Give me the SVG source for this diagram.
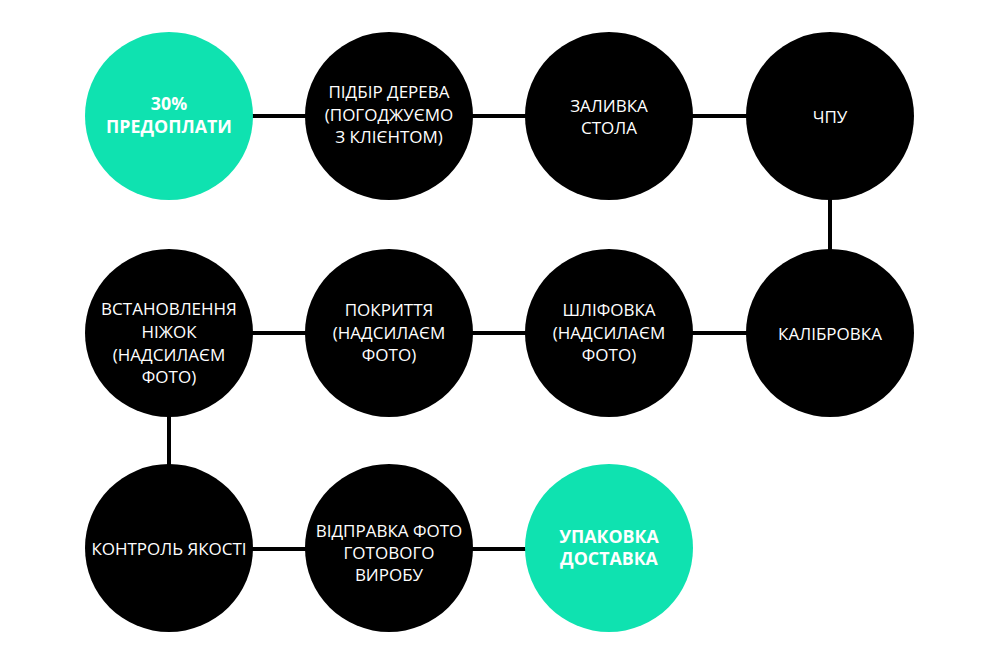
<svg xmlns="http://www.w3.org/2000/svg" width="1000" height="667" viewBox="0 0 1000 667">
<style>
.dark{fill:#000}
.green{fill:#0fe2b0}
.t{font-family:"Open Sans","Noto Sans","DejaVu Sans",sans-serif;font-size:17px;fill:#fff;text-anchor:middle}
.b{font-weight:bold;font-size:17.8px}
.c{stroke:#000;stroke-width:4;fill:none}
</style>
<rect width="1000" height="667" fill="#fff"/>
<g id="connectors">
<line class="c" x1="169" y1="116" x2="830" y2="116"/>
<line class="c" x1="830" y1="116" x2="830" y2="333"/>
<line class="c" x1="169" y1="333" x2="830" y2="333"/>
<line class="c" x1="169" y1="333" x2="169" y2="549"/>
<line class="c" x1="169" y1="549" x2="609" y2="549"/>
</g>
<g id="n1"><circle class="green" cx="169" cy="116" r="84"/>
<text class="t b" x="169" y="110">30%</text><text class="t b" x="169" y="133">ПРЕДОПЛАТИ</text></g>
<g id="n2"><circle class="dark" cx="389" cy="116" r="84"/>
<text class="t" x="389" y="98">ПІДБІР ДЕРЕВА</text><text class="t" x="389" y="121">(ПОГОДЖУЄМО</text><text class="t" x="389" y="143">З КЛІЄНТОМ)</text></g>
<g id="n3"><circle class="dark" cx="609" cy="116" r="84"/>
<text class="t" x="609" y="112">ЗАЛИВКА</text><text class="t" x="609" y="134">СТОЛА</text></g>
<g id="n4"><circle class="dark" cx="830" cy="116" r="84"/>
<text class="t" x="830" y="123">ЧПУ</text></g>
<g id="n5"><circle class="dark" cx="830" cy="333" r="84"/>
<text class="t" x="830" y="340">КАЛІБРОВКА</text></g>
<g id="n6"><circle class="dark" cx="609" cy="333" r="84"/>
<text class="t" x="609" y="316">ШЛІФОВКА</text><text class="t" x="609" y="339">(НАДСИЛАЄМ</text><text class="t" x="609" y="361">ФОТО)</text></g>
<g id="n7"><circle class="dark" cx="389" cy="333" r="84"/>
<text class="t" x="389" y="316">ПОКРИТТЯ</text><text class="t" x="389" y="339">(НАДСИЛАЄМ</text><text class="t" x="389" y="361">ФОТО)</text></g>
<g id="n8"><circle class="dark" cx="169" cy="333" r="84"/>
<text class="t" x="169" y="315">ВСТАНОВЛЕННЯ</text><text class="t" x="169" y="338">НІЖОК</text><text class="t" x="169" y="361">(НАДСИЛАЄМ</text><text class="t" x="169" y="383">ФОТО)</text></g>
<g id="n9"><circle class="dark" cx="169" cy="548" r="84"/>
<text class="t" x="169" y="555">КОНТРОЛЬ ЯКОСТІ</text></g>
<g id="n10"><circle class="dark" cx="389" cy="548" r="84"/>
<text class="t" x="389" y="537">ВІДПРАВКА ФОТО</text><text class="t" x="389" y="559">ГОТОВОГО</text><text class="t" x="389" y="581">ВИРОБУ</text></g>
<g id="n11"><circle class="green" cx="609" cy="548" r="84"/>
<text class="t b" x="609" y="543">УПАКОВКА</text><text class="t b" x="609" y="565">ДОСТАВКА</text></g>
</svg>
